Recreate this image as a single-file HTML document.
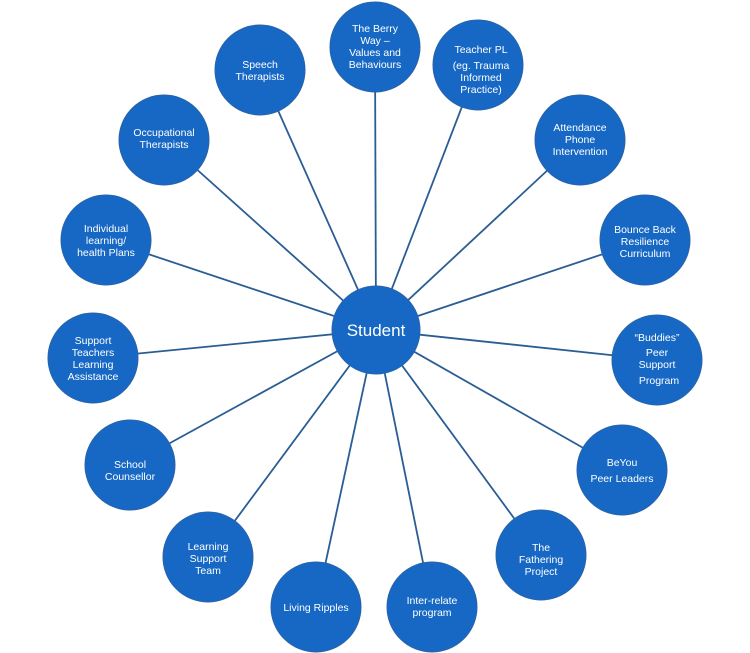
<!DOCTYPE html>
<html><head><meta charset="utf-8"><style>
body{margin:0;background:#fff}
svg{display:block}
text{font-family:"Liberation Sans",sans-serif;fill:#fff;font-size:10.5px;text-anchor:middle}
</style></head><body>
<svg width="750" height="653" viewBox="0 0 750 653">
<g stroke="#2b5d95" stroke-width="1.8">
<line x1="376" y1="330" x2="375" y2="47"/>
<line x1="376" y1="330" x2="478" y2="65"/>
<line x1="376" y1="330" x2="580" y2="140"/>
<line x1="376" y1="330" x2="645" y2="240"/>
<line x1="376" y1="330" x2="657" y2="360"/>
<line x1="376" y1="330" x2="622" y2="470"/>
<line x1="376" y1="330" x2="541" y2="555"/>
<line x1="376" y1="330" x2="432" y2="607"/>
<line x1="376" y1="330" x2="316" y2="607"/>
<line x1="376" y1="330" x2="208" y2="557"/>
<line x1="376" y1="330" x2="130" y2="465"/>
<line x1="376" y1="330" x2="93" y2="358"/>
<line x1="376" y1="330" x2="106" y2="240"/>
<line x1="376" y1="330" x2="164" y2="140"/>
<line x1="376" y1="330" x2="260" y2="70"/>
</g>
<g fill="#1668c4" stroke="#2a63a8" stroke-width="1">
<circle cx="376" cy="330" r="44"/>
<circle cx="375" cy="47" r="45"/>
<circle cx="478" cy="65" r="45"/>
<circle cx="580" cy="140" r="45"/>
<circle cx="645" cy="240" r="45"/>
<circle cx="657" cy="360" r="45"/>
<circle cx="622" cy="470" r="45"/>
<circle cx="541" cy="555" r="45"/>
<circle cx="432" cy="607" r="45"/>
<circle cx="316" cy="607" r="45"/>
<circle cx="208" cy="557" r="45"/>
<circle cx="130" cy="465" r="45"/>
<circle cx="93" cy="358" r="45"/>
<circle cx="106" cy="240" r="45"/>
<circle cx="164" cy="140" r="45"/>
<circle cx="260" cy="70" r="45"/>
</g>
<text x="376" y="336" style="font-size:17px">Student</text>
<text x="375" y="32">The Berry</text><text x="375" y="44">Way –</text><text x="375" y="56">Values and</text><text x="375" y="68">Behaviours</text>
<text x="481" y="53">Teacher PL</text><text x="481" y="69">(eg. Trauma</text><text x="481" y="81">Informed</text><text x="481" y="93">Practice)</text>
<text x="580" y="131">Attendance</text><text x="580" y="143">Phone</text><text x="580" y="155">Intervention</text>
<text x="645" y="233">Bounce Back</text><text x="645" y="245">Resilience</text><text x="645" y="257">Curriculum</text>
<text x="657" y="341">“Buddies”</text><text x="657" y="356">Peer</text><text x="657" y="368">Support</text><text x="659" y="384">Program</text>
<text x="622" y="466">BeYou</text><text x="622" y="482">Peer Leaders</text>
<text x="541" y="551">The</text><text x="541" y="563">Fathering</text><text x="541" y="575">Project</text>
<text x="432" y="604">Inter-relate</text><text x="432" y="616">program</text>
<text x="316" y="611">Living Ripples</text>
<text x="208" y="550">Learning</text><text x="208" y="562">Support</text><text x="208" y="574">Team</text>
<text x="130" y="468">School</text><text x="130" y="480">Counsellor</text>
<text x="93" y="344">Support</text><text x="93" y="356">Teachers</text><text x="93" y="368">Learning</text><text x="93" y="380">Assistance</text>
<text x="106" y="232">Individual</text><text x="106" y="244">learning/</text><text x="106" y="256">health Plans</text>
<text x="164" y="136">Occupational</text><text x="164" y="148">Therapists</text>
<text x="260" y="68">Speech</text><text x="260" y="80">Therapists</text>
</svg>
</body></html>
